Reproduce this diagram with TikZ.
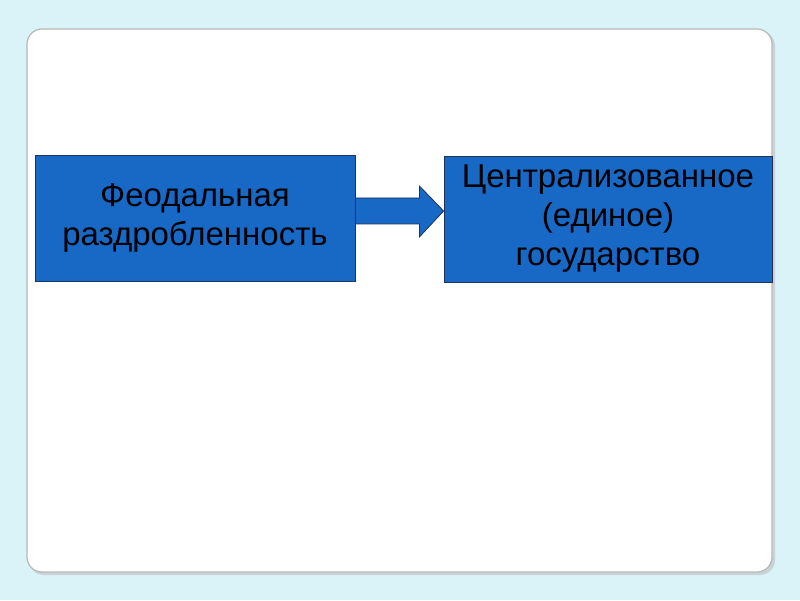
\documentclass[tikz,border=0pt]{standalone}
\usepackage{fontspec}
\setmainfont{Liberation Sans}
\usetikzlibrary{calc}
\definecolor{bgcyan}{RGB}{218,243,248}
\definecolor{boxblue}{RGB}{24,104,198}
\definecolor{boxline}{RGB}{30,50,90}
\tikzset{
  blockbox/.style={draw=boxline, line width=0.8pt, fill=boxblue, minimum height=126pt, inner sep=0pt, align=center, font=\fontsize{33}{39}\selectfont, text=black},
  blockarrow/.style={draw=boxline, line width=0.8pt, fill=boxblue, line join=miter}
}
\begin{document}
\begin{tikzpicture}[x=1pt,y=1pt]
\fill[bgcyan] (0,0) rectangle (800,600);
\useasboundingbox (0,0) rectangle (800,600);
% slide shadow
\fill[black!25, opacity=0.6, rounded corners=15pt] (29,25) rectangle (775,569);
\fill[white, draw=black!28, line width=1.2pt, rounded corners=15pt] (27,28) rectangle (772,571);
% boxes
\node[blockbox, minimum width=320pt] (L) at (195,382) {Феодальная\\раздробленность};
\node[blockbox, minimum width=328pt] (R) at (608,381) {Централизованное\\(единое)\\государство};
% arrow
\coordinate (tip) at ($(R.west)+(0,8)$);
\draw[blockarrow] ($(L.east)+(0,20)$) -- ($(L.east)+(64,20)$) -- ($(L.east)+(64,32)$) -- (tip)
  -- ($(L.east)+(64,-19)$) -- ($(L.east)+(64,-6)$) -- ($(L.east)+(0,-6)$) -- cycle;
\end{tikzpicture}
\end{document}
